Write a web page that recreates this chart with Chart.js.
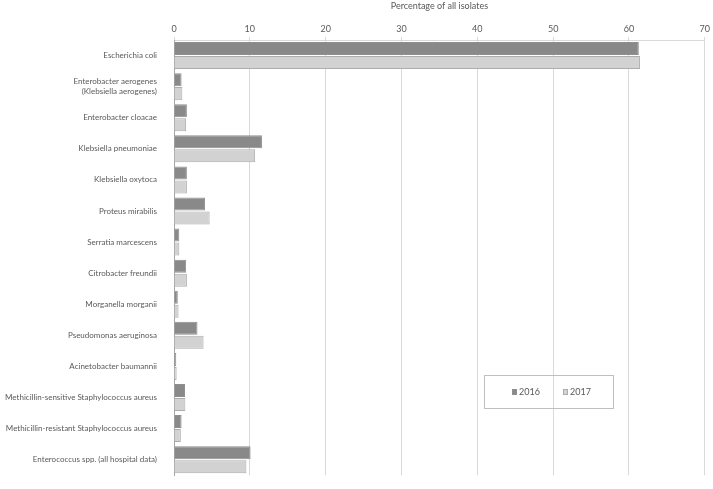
<!DOCTYPE html>
<html>
<head>
<meta charset="utf-8">
<script src="https://cdn.jsdelivr.net/npm/chart.js@4"></script>
<style>
  html, body { margin: 0; padding: 0; background: #fff; }
  #wrap { position: relative; width: 713px; height: 489px; }
</style>
</head>
<body>
<div id="wrap"><canvas id="c" width="713" height="489"></canvas></div>
<script>
const categories = [
  "Escherichia coli",
  ["Enterobacter aerogenes", "(Klebsiella aerogenes)"],
  "Enterobacter cloacae",
  "Klebsiella pneumoniae",
  "Klebsiella oxytoca",
  "Proteus mirabilis",
  "Serratia marcescens",
  "Citrobacter freundii",
  "Morganella morganii",
  "Pseudomonas aeruginosa",
  "Acinetobacter baumannii",
  "Methicillin-sensitive Staphylococcus aureus",
  "Methicillin-resistant Staphylococcus aureus",
  "Enterococcus spp. (all hospital data)"
];
const values2016 = [61.3, 1.0, 1.7, 11.6, 1.7, 4.1, 0.7, 1.6, 0.5, 3.1, 0.3, 1.45, 1.0, 10.1];
const values2017 = [61.45, 1.1, 1.6, 10.7, 1.7, 4.7, 0.7, 1.7, 0.6, 3.9, 0.35, 1.5, 0.9, 9.55];
const seriesNames = ["2016", "2017"];
const xTicks = [0, 10, 20, 30, 40, 50, 60, 70];

const FONT = "Lato";
const TXT = "#595959";

const legendBox = {
  id: "legendBox",
  afterDraw(chart) {
    const ctx = chart.ctx;
    ctx.save();
    ctx.strokeStyle = "#bfbfbf";
    ctx.lineWidth = 1;
    ctx.strokeRect(484.5, 375.5, 129, 33);
    const ds = chart.data.datasets;
    const xs = [512, 563];
    ctx.font = "9px " + FONT;
    ctx.textBaseline = "middle";
    ds.forEach((d, i) => {
      ctx.fillStyle = d.backgroundColor;
      ctx.fillRect(xs[i], 389, 5, 6);
      ctx.strokeStyle = d.borderColor;
      ctx.strokeRect(xs[i] + 0.5, 389.5, 4, 5);
      ctx.fillStyle = TXT;
      ctx.fillText(d.label, xs[i] + 7, 392.5);
    });
    ctx.restore();
  }
};

new Chart(document.getElementById("c"), {
  type: "bar",
  data: {
    labels: categories,
    datasets: [
      { label: seriesNames[0], data: values2016, backgroundColor: "#898989", borderColor: "#8f8f8f", borderWidth: 1 },
      { label: seriesNames[1], data: values2017, backgroundColor: "#d2d2d2", borderColor: "#acacac", borderWidth: 1 }
    ]
  },
  options: {
    indexAxis: "y",
    responsive: false,
    animation: false,
    layout: { padding: { left: 0, right: 7, top: 0, bottom: 3 } },
    datasets: { bar: { categoryPercentage: 0.9, barPercentage: 0.93 } },
    plugins: { legend: { display: false }, tooltip: { enabled: false } },
    scales: {
      x: {
        position: "top",
        min: 0, max: 70,
        afterBuildTicks(s) { s.ticks = xTicks.map(v => ({ value: v })); },
        afterFit(s) { s.height = 40; },
        grid: { color: "#d9d9d9", drawTicks: true, tickLength: 3 },
        border: { display: true, color: "#d9d9d9" },
        ticks: { color: TXT, font: { family: FONT, size: 9 }, padding: 3 },
        title: { display: true, text: "Percentage of all isolates", color: TXT, font: { family: FONT, size: 9 }, padding: { top: 1, bottom: 6 } }
      },
      y: {
        afterFit(s) { s.width = 174; },
        grid: { display: false },
        border: { display: true, color: "#a6a6a6" },
        ticks: { color: TXT, font: { family: FONT, size: 8 }, padding: 9 }
      }
    }
  },
  plugins: [legendBox]
});
</script>
</body>
</html>
